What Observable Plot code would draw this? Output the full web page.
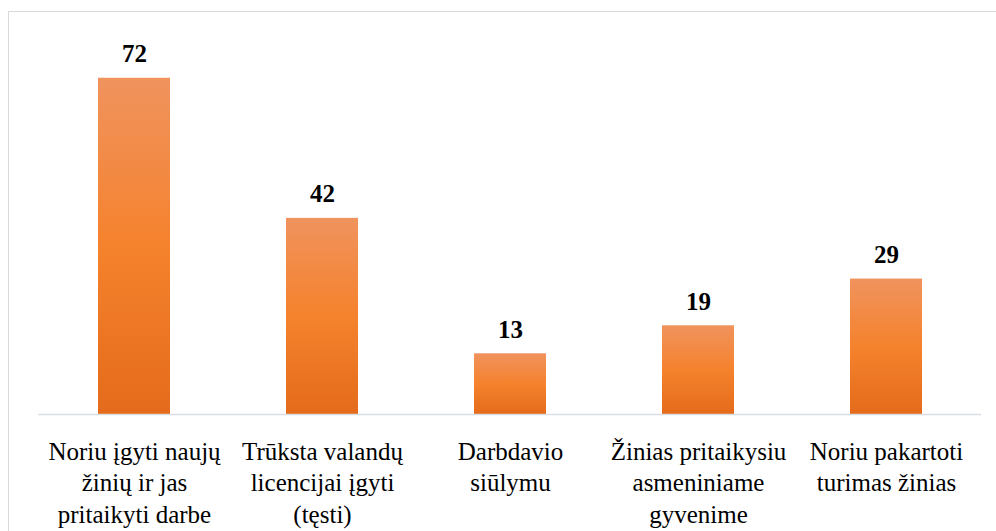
<!DOCTYPE html>
<html>
<head>
<meta charset="utf-8">
<script src="https://cdn.jsdelivr.net/npm/d3@7"></script>
<script src="https://cdn.jsdelivr.net/npm/@observablehq/plot@0.6"></script>
<style>
  html, body { margin: 0; padding: 0; background: #fff; overflow: hidden; }
  #wrap { position: relative; width: 996px; height: 531px; }
  #border { position: absolute; left: 8px; top: 11px; width: 1000px; height: 540px; border: 1px solid #d9d9d9; box-sizing: border-box; }
  #chart { position: absolute; left: 0; top: 0; }
</style>
</head>
<body>
<div id="wrap"><div id="border"></div><div id="chart"></div></div>
<script>
const categories = [
  "Noriu įgyti naujų\nžinių ir jas\npritaikyti darbe",
  "Trūksta valandų\nlicencijai įgyti\n(tęsti)",
  "Darbdavio\nsiūlymu",
  "Žinias pritaikysiu\nasmeniniame\ngyvenime",
  "Noriu pakartoti\nturimas žinias"
];
const values = [72, 42, 13, 19, 29];

const data = categories.map((c, i) => ({category: c, value: values[i]}));

const gradientDefs = () => {
  const defs = d3.create("svg:defs");
  const g = defs.append("linearGradient")
    .attr("id", "barGrad").attr("x1", 0).attr("y1", 0).attr("x2", 0).attr("y2", 1);
  g.append("stop").attr("offset", "0%").attr("stop-color", "#F0935E");
  g.append("stop").attr("offset", "50%").attr("stop-color", "#F5822D");
  g.append("stop").attr("offset", "100%").attr("stop-color", "#E46B1B");
  return defs.node();
};

const serif = "Liberation Serif";

const chart = Plot.plot({
  width: 996,
  height: 531,
  marginLeft: 38,
  marginRight: 15,
  marginTop: 40.4,
  marginBottom: 117,
  style: {fontFamily: serif, color: "#000", background: "transparent"},
  x: {domain: categories, paddingInner: 0.618, paddingOuter: 0.309, label: null},
  y: {domain: [0, 80], axis: null},
  marks: [
    gradientDefs,
    Plot.barY(data, {x: "category", y: "value", fill: "url(#barGrad)"}),
    Plot.ruleY([0], {stroke: "#d9dde3", strokeWidth: 1.5}),
    Plot.text(data, {x: "category", y: "value", text: d => String(d.value), lineAnchor: "bottom", dy: -16, fontSize: 25, fontWeight: "bold", fontFamily: serif, fill: "#000"}),
    Plot.axisX({tickSize: 0, tickPadding: 22.5, fontSize: 25, fontFamily: serif, lineHeight: 1.27, label: null, fill: "#000"})
  ]
});
d3.select(chart).selectAll("g, text, tspan")
  .attr("font-family", serif)
  .style("font-family", "'Liberation Serif', 'Times New Roman', serif")
  .style("font-variant", "normal");
document.getElementById("chart").appendChild(chart);
</script>
</body>
</html>
